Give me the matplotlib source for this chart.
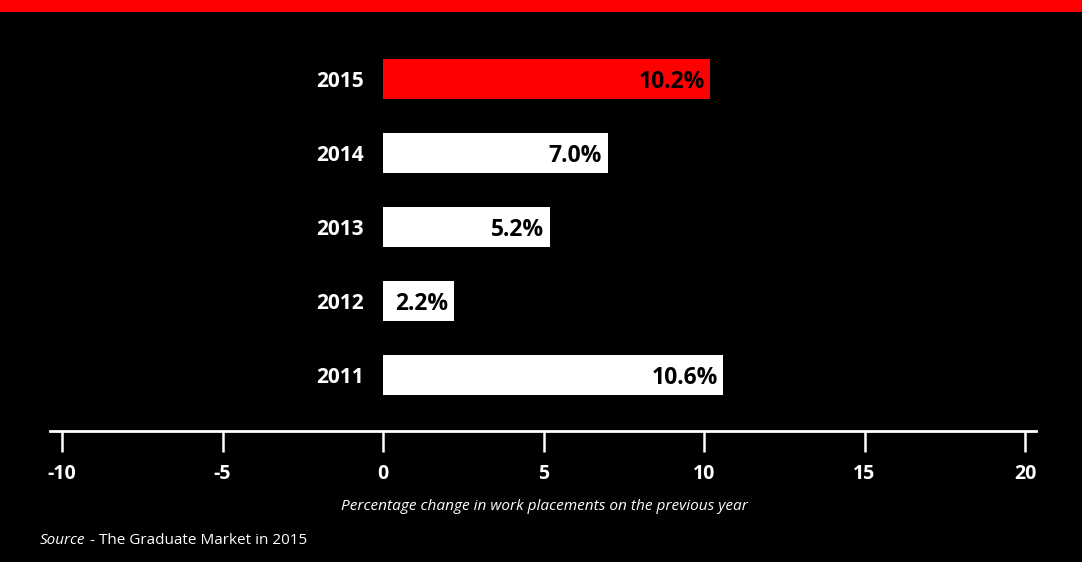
import matplotlib.pyplot as plt
from matplotlib.patches import Rectangle

years = ["2011", "2012", "2013", "2014", "2015"]
changes = [10.6, 2.2, 5.2, 7.0, 10.2]
bar_colors = ["white", "white", "white", "white", "#ff0000"]
ticks = [-10, -5, 0, 5, 10, 15, 20]

W, H = 1082, 562
fig = plt.figure(figsize=(W / 100, H / 100), dpi=100, facecolor="black")

# red strip along the top
fig.patches.append(Rectangle((0, 1 - 12 / H), 1, 12 / H, transform=fig.transFigure,
                             facecolor="#ff0000", edgecolor="none"))

ax = fig.add_axes([50 / W, 1 - 431 / H, 986 / W, 391 / H])
ax.set_facecolor("black")

ypos = list(range(len(years)))
ax.barh(ypos, changes, height=40 / 74, color=bar_colors, edgecolor="none")

ax.set_xlim(-10 - 12 / 32.1, 20 + 11 / 32.1)
ax.set_ylim(-56 / 74, 335 / 74)

for y, yr, v in zip(ypos, years, changes):
    ax.annotate(yr, (0, y), xytext=(-14, 0), textcoords="offset points",
                ha="right", va="center_baseline", color="white", fontsize=15,
                fontweight="bold", family="Open Sans")
    ax.annotate(f"{v:.1f}%", (v, y), xytext=(-4, 0), textcoords="offset points",
                ha="right", va="center_baseline", color="black", fontsize=16.5,
                fontweight="bold", family="Open Sans")

for s in ["top", "left", "right"]:
    ax.spines[s].set_visible(False)
ax.spines["bottom"].set_color("white")
ax.spines["bottom"].set_linewidth(2)

ax.set_yticks([])
ax.set_xticks(ticks)
ax.set_xticklabels([str(t) for t in ticks], family="Open Sans",
                   fontweight="bold", fontsize=14, color="white")
ax.tick_params(axis="x", direction="out", length=15, width=1.8,
               colors="white", pad=8.5)

fig.text(544 / W, 1 - 506 / H,
         "Percentage change in work placements on the previous year",
         ha="center", va="center", color="white", fontsize=11.1,
         style="italic", family="Open Sans")

src = fig.text(40 / W, 1 - 540 / H, "Source", ha="left", va="center",
               color="white", fontsize=11, style="italic", family="Open Sans")
fig.canvas.draw()
bb = src.get_window_extent()
fig.text((bb.x1 + 4) / W, 1 - 540 / H, "- The Graduate Market in 2015", ha="left",
         va="center", color="white", fontsize=11, family="Open Sans")

fig.savefig("out.png", dpi=100, facecolor="black")
